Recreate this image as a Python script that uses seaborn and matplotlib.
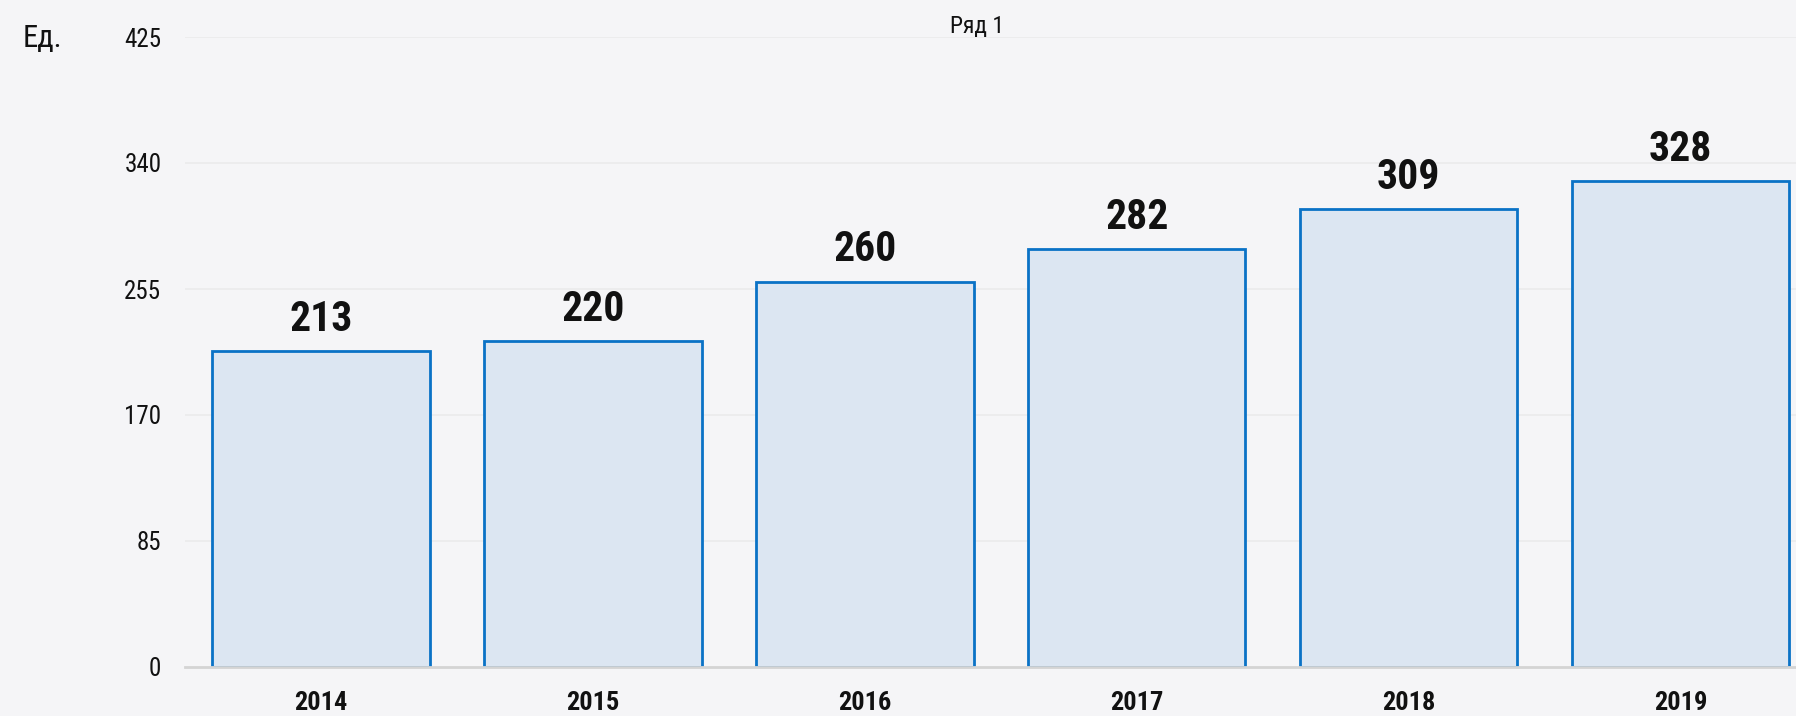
import matplotlib
matplotlib.use("Agg")
import matplotlib.pyplot as plt
import seaborn as sns
import pandas as pd

years = ["2014", "2015", "2016", "2017", "2018", "2019"]
values = [213, 220, 260, 282, 309, 328]
yticks = [0, 85, 170, 255, 340, 425]
series_name = "Ряд 1"
unit_label = "Ед."

sns.set_theme(style="white")
plt.rcParams["font.family"] = ["Roboto Condensed", "Liberation Sans", "DejaVu Sans"]

bg = "#f5f5f7"
fig = plt.figure(figsize=(17.96, 7.16), dpi=100, facecolor=bg)
W, H = 1796, 716
ax = fig.add_axes([185 / W, (H - 667) / H, 1 - 185 / W, (667 - 37) / H])
ax.set_facecolor(bg)

df = pd.DataFrame({"year": years, "value": values})
sns.barplot(data=df, x="year", y="value", ax=ax, color="#dce6f2",
            edgecolor="#0a72c6", linewidth=2, width=0.8, saturation=1)
for p in ax.patches:
    p.set_facecolor("#dce6f2")
    p.set_zorder(2)

ax.set_ylim(0, 425)
ax.set_xlim(-0.5, (W - 320.5) / 272)
ax.set_yticks(yticks)
ax.set_yticklabels([str(t) for t in yticks], fontsize=18)
ax.set_xticks(range(len(years)))
ax.set_xticklabels(years, fontsize=19, fontweight="bold")
ax.tick_params(axis="y", length=0, pad=17, labelcolor="#111111")
ax.tick_params(axis="x", length=0, pad=17, labelcolor="#111111")
ax.set_xlabel("")
ax.set_ylabel("")
for t in yticks[1:]:
    ax.axhline(t, color="#ebebeb", linewidth=1.2, zorder=0)
for s in ["top", "right", "left"]:
    ax.spines[s].set_visible(False)
ax.spines["bottom"].set_color("#d4d4d4")
ax.spines["bottom"].set_linewidth(2)
ax.spines["bottom"].set_zorder(3)

for i, v in enumerate(values):
    ax.annotate(str(v), xy=(i, v), xytext=(0, 14.5), textcoords="offset points",
                ha="center", va="baseline", fontsize=30, fontweight="bold",
                color="#111111")

fig.text(977 / W, 1 - 33 / H, series_name, ha="center", va="baseline", fontsize=17, color="#111111")
fig.text(23 / W, 1 - 47 / H, unit_label, ha="left", va="baseline", fontsize=22, color="#111111")

fig.savefig("out.png", dpi=100, facecolor=bg)
